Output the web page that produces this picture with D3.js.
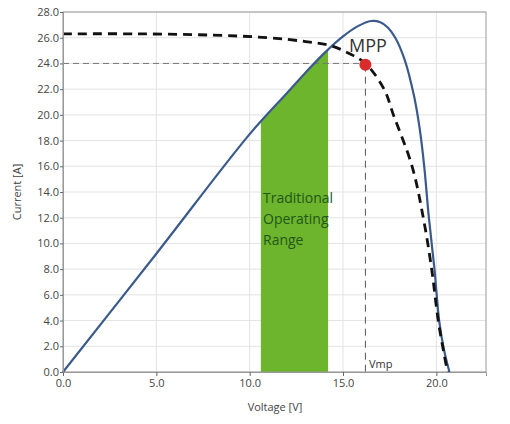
<!DOCTYPE html>
<html><head><meta charset="utf-8">
<script src="https://cdn.jsdelivr.net/npm/d3@7"></script>
<style>body{margin:0;background:#fff}text{font-family:"Open Sans",sans-serif}</style>
</head><body><svg id="c" width="510" height="424"></svg>
<script>
const xTicks=[0,5,10,15,20];
const yTicks=[0,2,4,6,8,10,12,14,16,18,20,22,24,26,28];
const powerV=[0,5,10,12,13,14,15,15.8,16.5,17.0,17.4,17.8,18.3,18.8,19.1,19.35,19.6,19.9,20.15,20.4,20.7];
const powerI=[0,9.2,18.5,21.7,23.3,24.8,26.1,26.9,27.3,27.2,26.8,26.0,24.3,21.5,19,16,12,8,4,1.8,0];
const ivV=[0,4,8,11,13,14.3,15.3,16.2,17.2,17.7,18.7,19.3,19.75,20.1,20.4,20.6];
const ivI=[26.3,26.3,26.2,26.0,25.7,25.4,24.8,24.0,22,20,16,12,8,4,1.5,0];
const rangeV=[10.6,14.2];
const mpp={v:16.2,i:23.9};
const svg=d3.select("#c");
const L=63,R=486,T=12,B=372;
const x=d3.scaleLinear().domain([0,22.66]).range([L,R]);
const y=d3.scaleLinear().domain([0,28]).range([B,T]);
const g=svg.append("g");
g.selectAll(".gy").data(yTicks).join("line").attr("x1",L).attr("x2",R).attr("y1",d=>y(d)).attr("y2",d=>y(d)).attr("stroke","#e3e3e3");
g.selectAll(".gx").data(xTicks).join("line").attr("y1",T).attr("y2",B).attr("x1",d=>x(d)).attr("x2",d=>x(d)).attr("stroke","#e3e3e3");
const pts=powerV.map((v,i)=>[v,powerI[i]]);
const interp=v=>{for(let i=1;i<powerV.length;i++){if(v<=powerV[i]){const t=(v-powerV[i-1])/(powerV[i]-powerV[i-1]);return powerI[i-1]+t*(powerI[i]-powerI[i-1]);}}return 0;};
const area=d3.range(rangeV[0],rangeV[1]+0.001,0.1).map(v=>[v,interp(v)]);
svg.append("path").datum(area).attr("fill","#6cb52c").attr("d",d3.area().x(d=>x(d[0])).y0(y(0)).y1(d=>y(d[1])));
svg.append("line").attr("x1",L).attr("x2",x(mpp.v)).attr("y1",y(24)).attr("y2",y(24)).attr("stroke","#777").attr("stroke-dasharray","6,4");
svg.append("line").attr("x1",x(mpp.v)).attr("x2",x(mpp.v)).attr("y1",y(mpp.i)).attr("y2",B).attr("stroke","#555").attr("stroke-dasharray","7,5");
svg.append("rect").attr("x",L).attr("y",T).attr("width",R-L).attr("height",B-T).attr("fill","none").attr("stroke","#999");
svg.append("path").datum(pts).attr("fill","none").attr("stroke","#3b5a8c").attr("stroke-width",2.2)
 .attr("d",d3.line().x(d=>x(d[0])).y(d=>y(d[1])).curve(d3.curveCatmullRom));
const iv=ivV.map((v,i)=>[v,ivI[i]]);
svg.append("path").datum(iv).attr("fill","none").attr("stroke","#111").attr("stroke-width",2.8).attr("stroke-dasharray","9,6")
 .attr("d",d3.line().x(d=>x(d[0])).y(d=>y(d[1])).curve(d3.curveCatmullRom));
svg.append("circle").attr("cx",x(mpp.v)).attr("cy",y(mpp.i)).attr("r",6).attr("fill","#d92b2b");
const ax=svg.append("g").attr("transform",`translate(0,${B})`).call(d3.axisBottom(x).tickValues(xTicks).tickFormat(d3.format(".1f")).tickSize(4));
const ay=svg.append("g").attr("transform",`translate(${L},0)`).call(d3.axisLeft(y).tickValues(yTicks).tickFormat(d3.format(".1f")).tickSize(3).tickPadding(1));
[ax,ay].forEach(a=>{a.select(".domain").attr("stroke","#999");a.selectAll("line").attr("stroke","#666");a.selectAll("text").attr("fill","#444").attr("font-size",11);});
svg.append("text").attr("x",275).attr("y",411).attr("text-anchor","middle").attr("font-size",11).attr("fill","#444").text("Voltage [V]");
svg.append("text").attr("transform","translate(21,192) rotate(-90)").attr("text-anchor","middle").attr("font-size",11).attr("fill","#444").text("Current [A]");
svg.append("text").attr("x",349).attr("y",52).attr("font-size",18).attr("fill","#333").text("MPP");
svg.append("text").attr("x",369).attr("y",368).attr("font-size",11).attr("fill","#333").text("Vmp");
["Traditional","Operating","Range"].forEach((t,i)=>svg.append("text").attr("x",263).attr("y",203+i*21).attr("font-size",14).attr("fill","#24551a").text(t));
</script></body></html>
